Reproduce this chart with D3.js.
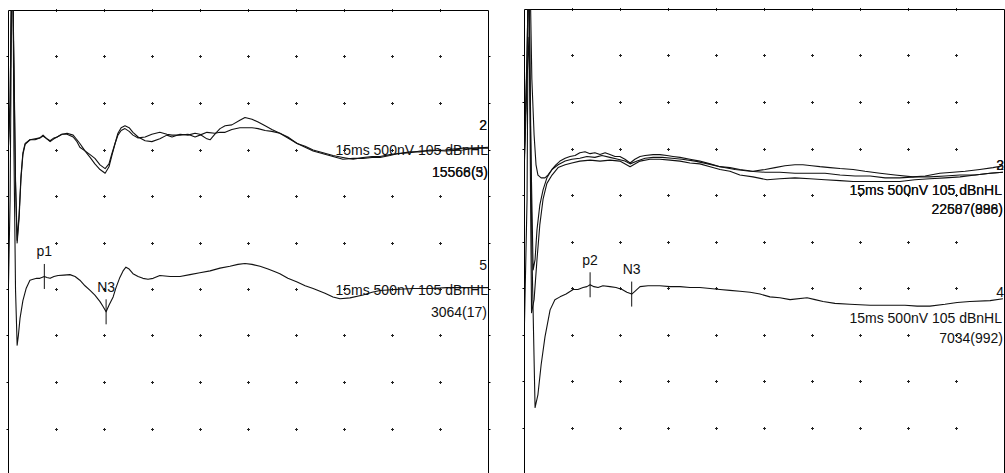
<!DOCTYPE html>
<html>
<head>
<meta charset="utf-8">
<script src="https://cdn.jsdelivr.net/npm/d3@7"></script>
<style>
  html, body { margin: 0; padding: 0; background: #fff; }
  svg { display: block; }
  text { font-family: "Liberation Sans", Arial, sans-serif; font-size: 14px; fill: #111; }
</style>
</head>
<body>
<svg id="chart" width="1005" height="473"></svg>
<script>
// Sweep settings: 15 ms window, 500 nV per division (10 x 10 divisions)
const sweepMs = 15;
const divisionMs = 1.5;
const divisionNv = 500;
const rangeNv = [2500, -2500];

// ---- Averaged responses, [time ms, amplitude nV] ----
const leftUpperA = [
  [0,1050],[0.05,1530],[0.11,3250],[0.17,1960],[0.22,670],[0.27,30],[0.33,300],[0.39,720],[0.45,970],
  [0.52,1070],[0.67,1110],[0.83,1120],[0.98,1130],[1.08,1160],[1.2,1120],[1.3,1090],[1.42,1120],
  [1.52,1140],[1.67,1170],[1.83,1180],[2.02,1160],[2.14,1110],[2.23,1070],[2.39,990],[2.55,920],
  [2.7,850],[2.86,790],[3.02,750],[3.14,820],[3.23,940],[3.33,1070],[3.42,1180],[3.52,1240],
  [3.64,1260],[3.77,1240],[3.89,1190],[4.05,1140],[4.11,1130],[4.27,1100],[4.48,1090],[4.73,1120],
  [4.95,1160],[5.11,1140],[5.36,1170],[5.61,1160],[5.83,1180],[5.98,1170],[6.2,1120],[6.3,1110],
  [6.45,1170],[6.61,1230],[6.77,1260],[6.98,1270],[7.23,1320],[7.39,1350],[7.61,1330],[7.8,1300],
  [8.02,1260],[8.23,1220],[8.48,1180],[8.73,1130],[9.02,1070],[9.27,1030],[9.52,990],[9.83,960],
  [10.14,930],[10.45,900],[10.77,910],[11.08,910],[11.36,920],[11.61,920],[11.92,940],[12.14,960],
  [12.55,970],[12.86,990],[13.17,990],[13.64,1000],[14.2,1020],[14.58,1020],[15,1030]
];
const leftUpperB = [
  [0,1040],[0.05,1500],[0.11,3250],[0.17,1850],[0.22,620],[0.27,0],[0.33,260],[0.39,690],[0.45,950],
  [0.52,1060],[0.67,1110],[0.83,1110],[0.98,1130],[1.08,1150],[1.2,1120],[1.3,1100],[1.42,1130],
  [1.52,1140],[1.67,1170],[1.83,1170],[2.02,1140],[2.14,1090],[2.23,1030],[2.39,990],[2.55,950],
  [2.7,910],[2.86,840],[3.02,800],[3.14,850],[3.23,960],[3.33,1070],[3.42,1160],[3.52,1210],
  [3.64,1230],[3.77,1200],[3.89,1160],[4.05,1130],[4.27,1140],[4.48,1170],[4.73,1190],[4.95,1170],
  [5.11,1160],[5.36,1160],[5.61,1170],[5.83,1140],[5.98,1160],[6.2,1190],[6.45,1180],[6.61,1190],
  [6.77,1190],[6.98,1220],[7.23,1240],[7.39,1240],[7.61,1240],[7.8,1230],[8.02,1210],[8.23,1200],
  [8.48,1180],[8.73,1140],[9.02,1070],[9.27,1040],[9.52,1000],[9.83,970],[10.14,940],[10.45,920],
  [10.77,900],[11.08,920],[11.36,930],[11.61,930],[11.92,950],[12.14,960],[12.55,980],[12.86,980],
  [13.17,1000],[13.64,990],[14.2,1000],[14.58,1020],[15,1020]
];
const leftLower = [
  [0,-440],[0.05,460],[0.11,3250],[0.14,3030],[0.17,990],[0.22,-510],[0.27,-1100],[0.31,-990],
  [0.36,-810],[0.45,-620],[0.55,-490],[0.67,-400],[0.77,-390],[0.88,-380],[0.98,-380],[1.12,-360],
  [1.2,-370],[1.3,-380],[1.42,-360],[1.55,-350],[1.73,-345],[1.92,-340],[2.08,-360],[2.23,-400],
  [2.39,-460],[2.55,-510],[2.7,-560],[2.86,-630],[2.95,-680],[3.05,-740],[3.14,-670],[3.27,-580],
  [3.36,-480],[3.48,-370],[3.58,-300],[3.67,-260],[3.77,-280],[3.89,-330],[4.05,-360],[4.2,-380],
  [4.36,-390],[4.52,-380],[4.73,-350],[5.05,-360],[5.36,-360],[5.67,-340],[5.98,-320],[6.3,-300],
  [6.61,-270],[6.92,-250],[7.17,-230],[7.39,-220],[7.61,-230],[7.86,-250],[8.11,-280],[8.33,-310],
  [8.48,-330],[8.73,-380],[9.02,-420],[9.27,-460],[9.52,-490],[9.89,-540],[10.14,-580],[10.36,-600],
  [10.67,-590],[11.08,-560],[11.36,-530],[11.61,-510],[12.08,-500],[12.64,-490],[13.17,-490],
  [13.7,-480],[14.27,-480],[15,-480]
];
const rightUpperA = [
  [0,990],[0.08,1960],[0.125,3140],[0.17,2930],[0.23,1750],[0.3,1150],[0.36,830],[0.42,720],[0.52,690],
  [0.64,690],[0.73,720],[0.86,780],[0.98,830],[1.11,870],[1.27,900],[1.42,920],[1.58,930],[1.73,960],
  [1.89,970],[2.05,950],[2.2,960],[2.36,940],[2.52,960],[2.67,940],[2.83,920],[2.98,920],[3.14,890],
  [3.3,850],[3.45,890],[3.61,920],[3.77,930],[4.02,940],[4.23,940],[4.45,930],[4.64,920],[4.86,910],
  [5.17,890],[5.48,870],[5.8,840],[6.11,810],[6.42,800],[6.73,780],[7.14,760],[7.52,780],[7.83,800],
  [8.14,820],[8.45,830],[8.7,830],[8.98,820],[9.23,810],[9.55,800],[9.86,790],[10.27,780],[10.64,760],
  [11.11,740],[11.58,720],[12.14,700],[12.52,710],[12.98,740],[13.39,750],[13.77,760],[14.23,780],
  [14.64,800],[14.95,820]
];
const rightUpperB = [
  [0,880],[0.08,1750],[0.14,2200],[0.2,990],[0.27,-300],[0.33,-190],[0.39,130],[0.48,400],[0.58,560],
  [0.7,690],[0.86,780],[1.05,830],[1.27,870],[1.48,890],[1.73,900],[1.95,920],[2.2,910],[2.42,930],
  [2.67,910],[2.92,890],[3.14,870],[3.3,840],[3.52,870],[3.77,900],[4.02,910],[4.3,910],[4.61,900],
  [4.92,890],[5.33,870],[5.73,840],[6.11,810],[6.58,780],[7.05,760],[7.52,750],[7.98,750],[8.45,740],
  [8.92,740],[9.39,740],[9.86,720],[10.33,710],[10.8,710],[11.27,690],[11.73,690],[12.2,700],
  [12.67,700],[13.14,710],[13.61,720],[14.08,720],[14.55,740],[14.95,750]
];
const rightUpperC = [
  [0,940],[0.08,2070],[0.14,3030],[0.19,460],[0.22,-760],[0.3,-620],[0.39,-190],[0.48,190],[0.58,460],
  [0.7,630],[0.86,720],[1.05,800],[1.27,830],[1.48,850],[1.73,870],[2.05,880],[2.36,870],[2.67,880],
  [2.98,870],[3.3,810],[3.61,870],[3.92,890],[4.23,890],[4.55,880],[4.86,870],[5.17,850],[5.48,840],
  [5.8,810],[6.11,780],[6.42,760],[6.73,720],[7.14,700],[7.58,670],[7.98,680],[8.45,690],[8.92,680],
  [9.39,670],[9.86,660],[10.27,650],[10.8,650],[11.27,650],[11.73,650],[12.2,670],[12.67,680],
  [13.14,690],[13.61,700],[14.08,720],[14.55,740],[14.95,750]
];
const rightLower = [
  [0,-870],[0.08,460],[0.125,3140],[0.17,2070],[0.23,-80],[0.33,-1780],[0.42,-1640],[0.52,-1320],
  [0.64,-1020],[0.8,-730],[0.95,-620],[1.11,-590],[1.3,-560],[1.52,-510],[1.67,-510],[1.83,-490],
  [1.95,-480],[2.05,-460],[2.17,-480],[2.3,-490],[2.45,-470],[2.67,-480],[2.86,-490],[3.05,-510],
  [3.2,-540],[3.35,-560],[3.45,-530],[3.61,-480],[3.86,-470],[4.08,-470],[4.23,-470],[4.55,-480],
  [4.86,-480],[5.17,-490],[5.48,-490],[5.8,-500],[6.11,-510],[6.42,-520],[6.73,-530],[7.05,-540],
  [7.36,-560],[7.67,-590],[7.98,-600],[8.3,-620],[8.83,-600],[9.08,-620],[9.33,-640],[9.7,-660],
  [10.17,-670],[10.8,-680],[11.42,-680],[11.89,-680],[12.27,-690],[12.67,-690],[13.14,-670],
  [13.52,-650],[13.92,-640],[14.55,-630],[14.95,-610]
];

// ---- Peak markers [label, time ms] ----
const leftPeaks = [["p1", 1.12], ["N3", 3.05]];
const rightPeaks = [["p2", 2.05], ["N3", 3.35]];

// ---- Recording annotations ----
const settingsText = "15ms 500nV 105 dBnHL";
const leftUpperChannels = ["2", "2"];
const leftUpperCounts = ["15566(3)", "15568(5)"];
const leftLowerChannels = ["5"];
const leftLowerCounts = ["3064(17)"];
const rightUpperChannels = ["2", "3"];
const rightUpperCounts = ["22607(998)", "22587(886)"];
const rightLowerChannels = ["4"];
const rightLowerCounts = ["7034(992)"];

// ---------------------------------------------------------------
const svg = d3.select("#chart");
const W = 480, H = 465;

const panels = [
  {
    id: "L", x0: 8.5, y0: 10.5,
    groups: [
      { traces: [leftUpperA, leftUpperB], channels: leftUpperChannels, counts: leftUpperCounts,
        settingsCopies: 1, chY: 130, setY: 155, cntY: 177, chX: 487, setX: 488, cntX: 488 },
      { traces: [leftLower], channels: leftLowerChannels, counts: leftLowerCounts,
        settingsCopies: 1, chY: 270, setY: 295, cntY: 317, chX: 487, setX: 488, cntX: 487 }
    ],
    peaks: { trace: leftLower, list: leftPeaks }
  },
  {
    id: "R", x0: 524.5, y0: 9.5,
    groups: [
      { traces: [rightUpperA, rightUpperB, rightUpperC], channels: rightUpperChannels, counts: rightUpperCounts,
        settingsCopies: 2, chY: 170, setY: 194.5, cntY: 213.5, chX: 1004, setX: 1002, cntX: 1003 },
      { traces: [rightLower], channels: rightLowerChannels, counts: rightLowerCounts,
        settingsCopies: 1, chY: 297, setY: 323, cntY: 343, chX: 1004, setX: 1002, cntX: 1003 }
    ],
    peaks: { trace: rightLower, list: rightPeaks }
  }
];

panels.forEach(p => {
  const x = d3.scaleLinear().domain([0, sweepMs]).range([p.x0, p.x0 + W]);
  const y = d3.scaleLinear().domain(rangeNv).range([p.y0, p.y0 + H]);

  const clipId = "clip-" + p.id;
  svg.append("clipPath").attr("id", clipId)
    .append("rect").attr("x", p.x0).attr("y", p.y0).attr("width", W).attr("height", H);

  const g = svg.append("g");

  // grid dots at every division
  const xDiv = d3.range(1, sweepMs / divisionMs).map(k => k * divisionMs);
  const yDiv = d3.range(0, (rangeNv[0] - rangeNv[1]) / divisionNv).map(k => rangeNv[0] - k * divisionNv);
  const dots = g.append("g").attr("shape-rendering", "crispEdges").attr("fill", "#222");
  yDiv.forEach(v => {
    xDiv.forEach(t => {
      const px = Math.floor(x(t)), py = Math.floor(y(v));
      dots.append("rect").attr("x", px - 1).attr("y", py).attr("width", 3).attr("height", 1);
      dots.append("rect").attr("x", px).attr("y", py - 1).attr("width", 1).attr("height", 3);
    });
  });

  // frame (open at the bottom, below the window) with outward division ticks
  g.append("path")
    .attr("d", `M${p.x0},${p.y0 + H + 10}V${p.y0}H${p.x0 + W}V${p.y0 + H + 10}`)
    .attr("fill", "none").attr("stroke", "#000").attr("stroke-width", 1);
  yDiv.slice(1).forEach(v => {
    const py = Math.floor(y(v)) + 0.5;
    g.append("line").attr("x1", p.x0 - 2).attr("x2", p.x0).attr("y1", py).attr("y2", py)
      .attr("stroke", "#000");
    g.append("line").attr("x1", p.x0 + W).attr("x2", p.x0 + W + 2).attr("y1", py).attr("y2", py)
      .attr("stroke", "#000");
  });

  // waveforms
  const line = d3.line().x(d => x(d[0])).y(d => y(d[1])).curve(d3.curveLinear);
  const traceG = g.append("g").attr("clip-path", `url(#${clipId})`);
  p.groups.forEach(grp => {
    grp.traces.forEach(tr => {
      traceG.append("path").attr("d", line(tr))
        .attr("fill", "none").attr("stroke", "#111").attr("stroke-width", 1.1)
        .attr("stroke-linejoin", "round");
    });
    // annotations to the right end of each recording
    grp.channels.forEach(c => {
      g.append("text").attr("x", grp.chX).attr("y", grp.chY).attr("text-anchor", "end").text(c);
    });
    d3.range(grp.settingsCopies).forEach(() => {
      g.append("text").attr("x", grp.setX).attr("y", grp.setY).attr("text-anchor", "end").text(settingsText);
    });
    grp.counts.forEach(c => {
      g.append("text").attr("x", grp.cntX).attr("y", grp.cntY).attr("text-anchor", "end").text(c);
    });
  });

  // peak markers on the lower recording
  p.peaks.list.forEach(([lab, t]) => {
    const pt = p.peaks.trace.reduce((a, b) => Math.abs(b[0] - t) < Math.abs(a[0] - t) ? b : a);
    const px = x(pt[0]), py = y(pt[1]);
    g.append("line").attr("x1", px).attr("x2", px).attr("y1", py - 12.5).attr("y2", py + 12.5)
      .attr("stroke", "#111").attr("stroke-width", 1);
    g.append("text").attr("x", px).attr("y", py - 20).attr("text-anchor", "middle").text(lab);
  });
});
</script>
</body>
</html>
